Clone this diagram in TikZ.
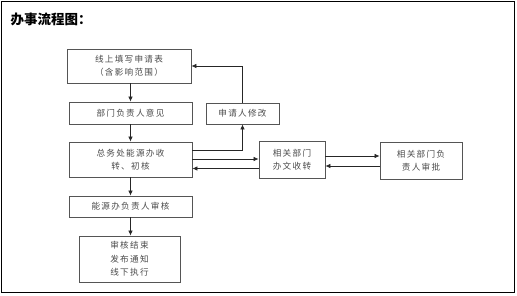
\documentclass[tikz,border=0pt]{standalone}
\usepackage{fontspec}
\newfontfamily\cjk[LetterSpace=15]{Noto Sans CJK SC}
\newfontfamily\cjkt{Noto Sans CJK SC}
\usetikzlibrary{arrows.meta}
\definecolor{boxline}{HTML}{555555}
\definecolor{boxtext}{HTML}{4A4A4A}
\tikzset{
  box/.style={draw=boxline, line width=0.8pt, rectangle, inner sep=0pt, align=center,
    text=boxtext, font=\cjk\fontsize{8.6pt}{13.5pt}\selectfont},
  arr/.style={draw=black!85, line width=0.7pt, -{Latex[length=5pt,width=4.5pt]}}
}
\begin{document}
\begin{tikzpicture}[x=1pt,y=-1pt]
\useasboundingbox (0,0) rectangle (517,296);
\draw[line width=1pt] (1,2) rectangle (514,293);
\node[anchor=west, font=\cjkt\bfseries\fontsize{13.5pt}{14pt}\selectfont] (title) at (7,19) {办事流程图：};

\node[box, minimum width=124pt, minimum height=34pt] (b1) at (129,66) {线上填写申请表\\（含影响范围）};
\node[box, minimum width=123pt, minimum height=22pt] (b2) at (130.5,113) {部门负责人意见};
\node[box, minimum width=73pt, minimum height=21pt] (mod) at (242.5,113.5) {申请人修改};
\node[box, minimum width=123pt, minimum height=35pt] (b3) at (130.5,159.5) {总务处能源办收\\转、初核};
\node[box, minimum width=66pt, minimum height=37pt] (b6) at (292,159.5) {相关部门\\办文收转};
\node[box, minimum width=82pt, minimum height=37pt] (b7) at (421,160.5) {相关部门负\\责人审批};
\node[box, minimum width=123pt, minimum height=21pt] (b4) at (130.5,206.5) {能源办负责人审核};
\node[box, minimum width=101pt, minimum height=46pt] (b5) at (129.5,259) {审核结束\\发布通知\\线下执行};

\draw[arr] (b2.north |- b1.south) -- (b2.north);
\draw[arr] (b2.south) -- (b3.north);
\draw[arr] (b3.south) -- (b4.north);
\draw[arr] (b4.south -| b2.south) -- (b5.north -| b2.south);
\draw[arr] ([yshift=9.5pt]b3.east) -| (mod.south);
\draw[arr] (mod.north) |- (b1.east);
\draw[arr] ([yshift=0.5pt]b3.east) -- ([yshift=0.5pt]b6.west);
\draw[arr] ([yshift=-9pt]b6.west) -- ([yshift=-9pt]b3.east);
\draw[arr] ([yshift=3.5pt]b6.east) -- ([yshift=4.5pt]b7.west);
\draw[arr] ([yshift=-5.5pt]b7.west) -- ([yshift=-6.5pt]b6.east);
\end{tikzpicture}
\end{document}
